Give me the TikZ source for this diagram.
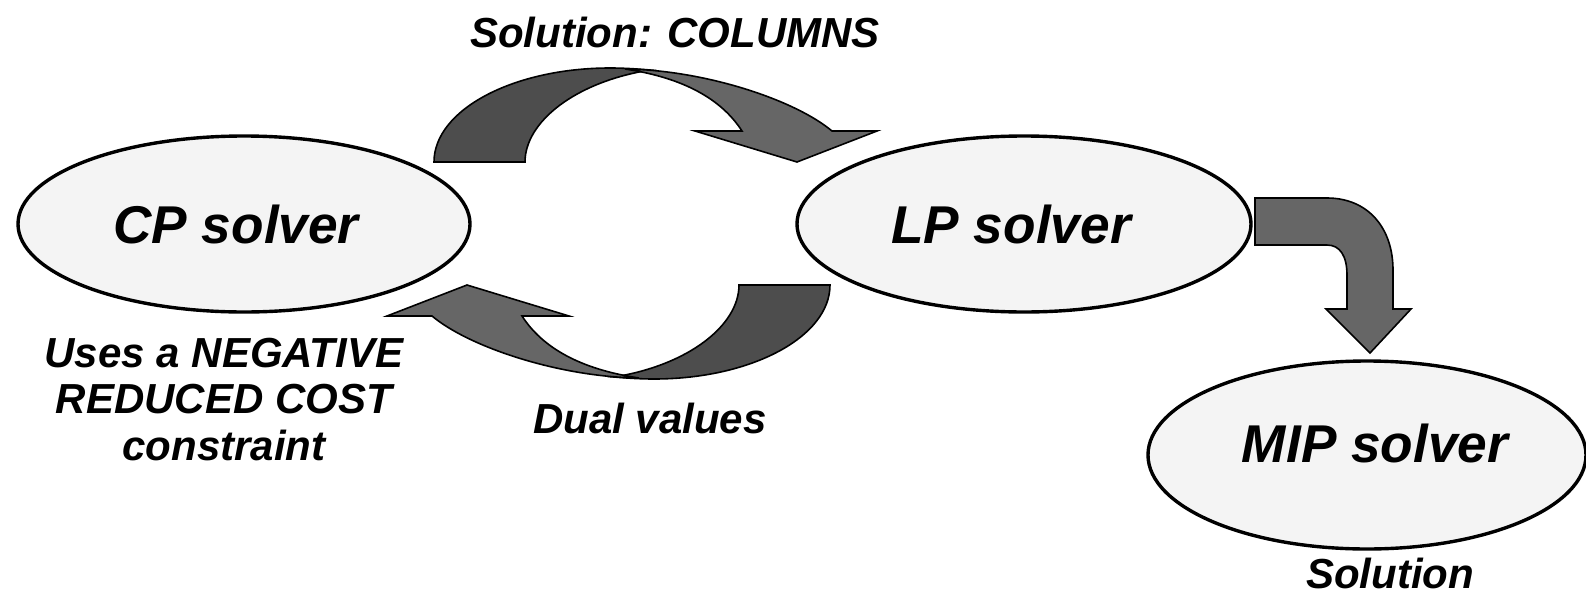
\documentclass[tikz,border=0pt]{standalone}
\usepackage{fontspec}
\setmainfont{Liberation Sans}
\usetikzlibrary{shapes.geometric}
\definecolor{ellfill}{HTML}{F4F4F4}
\definecolor{darkarr}{HTML}{4D4D4D}
\definecolor{lightarr}{HTML}{666666}
\begin{document}
\begin{tikzpicture}[x=0.5pt,y=-0.5pt,
  solver/.style={ellipse, draw=black, line width=1.7pt, fill=ellfill, inner sep=0pt},
  big/.style={font=\fontsize{26.6}{30}\selectfont\bfseries\itshape, inner sep=0pt},
  lbl/.style={font=\fontsize{21}{23.25}\selectfont\bfseries\itshape, inner sep=0pt},
  arrdark/.style={fill=darkarr, draw=black, line width=0.8pt, line join=miter},
  arrlight/.style={fill=lightarr, draw=black, line width=0.8pt, line join=miter},
  ]
\useasboundingbox (0,0) rectangle (1586,595);

% ellipses
\node[solver, minimum width=226pt, minimum height=88pt] (cp) at (244,224) {};
\node[solver, minimum width=227pt, minimum height=88pt] (lp) at (1024,224) {};
\node[solver, minimum width=219pt, minimum height=94pt] (mip) at (1367,455) {};

\node[big, anchor=base] (cpt) at (236,243) {CP solver};
\node[big, anchor=base] (lpt) at (1011,243) {LP solver};
\node[big, anchor=base] (mipt) at (1375,462) {MIP solver};

% top curved arrow (CP -> LP)
\path[arrdark] (434,162) .. controls (434,110) and (513,68) .. (610,68)
  .. controls (625,68) and (638,69) .. (650,70)
  .. controls (575,82) and (525,122) .. (525,162) -- cycle;
\path[arrlight] (625,69) .. controls (705,70) and (795,100) .. (832,131)
  -- (877,131) -- (797,162) -- (695,131) -- (742,131)
  .. controls (722,100) and (685,78) .. (625,69) -- cycle;

% bottom curved arrow (LP -> CP), same shape turned round
\begin{scope}[rotate around={180:(632,223.5)}]
\path[arrdark] (434,162) .. controls (434,110) and (513,68) .. (610,68)
  .. controls (625,68) and (638,69) .. (650,70)
  .. controls (575,82) and (525,122) .. (525,162) -- cycle;
\path[arrlight] (625,69) .. controls (705,70) and (795,100) .. (832,131)
  -- (877,131) -- (797,162) -- (695,131) -- (742,131)
  .. controls (722,100) and (685,78) .. (625,69) -- cycle;
\end{scope}

% bent arrow (LP -> MIP)
\path[arrlight] (1255,198) -- (1327,198) .. controls (1368,198) and (1393,228) .. (1393,270)
  -- (1393,309) -- (1411,309) -- (1370,353) -- (1326,309) -- (1347,309) -- (1347,275)
  .. controls (1347,256) and (1340,245) .. (1327,245) -- (1255,245) -- cycle;

% labels
\node[lbl, anchor=base] (cols) at (675,47) {Solution: COLUMNS};
\node[lbl, anchor=base] (dual) at (650,433) {Dual values};
\node[lbl, anchor=base, align=center] (neg) at (224,460) {Uses a NEGATIVE\\REDUCED COST\\constraint};
\node[lbl, anchor=base] (sol) at (1390,588) {Solution};
\end{tikzpicture}
\end{document}
